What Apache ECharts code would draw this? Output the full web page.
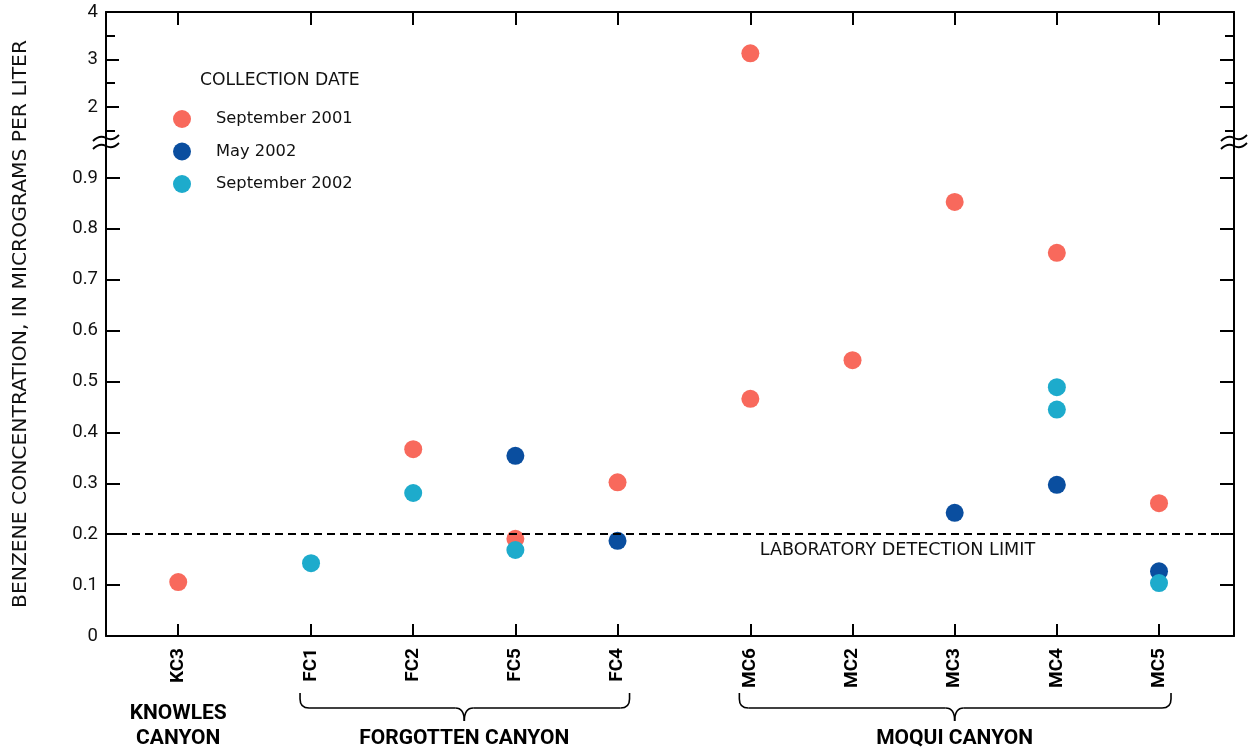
<!DOCTYPE html>
<html>
<head>
<meta charset="utf-8">
<title>Benzene concentration by site</title>
<script src="https://cdn.jsdelivr.net/npm/echarts@6/dist/echarts.min.js"></script>
<style>
  html, body { margin: 0; padding: 0; background: #ffffff; }
  #chart { width: 1251px; height: 752px; }
</style>
</head>
<body>
<div id="chart"></div>
<script>
// ---- data ----
const sites = ['KC3', 'FC1', 'FC2', 'FC5', 'FC4', 'MC6', 'MC2', 'MC3', 'MC4', 'MC5'];
// site positions along the x axis (wider gaps between canyons)
const sitePositions = [0, 1.3, 2.3, 3.3, 4.3, 5.6, 6.6, 7.6, 8.6, 9.6];

const seriesNames = ['September 2001', 'May 2002', 'September 2002'];
const seriesColors = ['#F8695C', '#0A4E9F', '#1DABCC'];

// [site, benzene micrograms per liter]
const sep2001 = [
  ['KC3', 0.106], ['FC2', 0.367], ['FC5', 0.191], ['FC4', 0.302],
  ['MC6', 3.13], ['MC6', 0.466], ['MC2', 0.542], ['MC3', 0.853],
  ['MC4', 0.753], ['MC5', 0.261]
];
const may2002 = [
  ['FC5', 0.354], ['FC4', 0.187], ['MC3', 0.242], ['MC4', 0.297], ['MC5', 0.127]
];
const sep2002 = [
  ['FC1', 0.143], ['FC2', 0.281], ['FC5', 0.169], ['MC4', 0.489],
  ['MC4', 0.445], ['MC5', 0.104]
];

const lowerTicks = [0, 0.1, 0.2, 0.3, 0.4, 0.5, 0.6, 0.7, 0.8, 0.9];
const upperMajorTicks = [2, 3, 4];
const upperMinorTicks = [1.5, 2.5, 3.5];
const detectionLimit = 0.2;

const groups = [
  { name: 'KNOWLES\nCANYON', from: 'KC3', to: 'KC3', brace: false },
  { name: 'FORGOTTEN CANYON', from: 'FC1', to: 'FC4', brace: true },
  { name: 'MOQUI CANYON', from: 'MC6', to: 'MC5', brace: true }
];

// ---- layout ----
const W = 1251, H = 752;
const PLOT_L = 106, PLOT_R = 1234, PLOT_T = 12, BREAK_Y = 142, PLOT_B = 636;
const X_MIN = -0.707, X_MAX = 10.334;
const UPPER_MIN = 1.263, UPPER_MAX = 4;
const LOWER_MIN = 0, LOWER_MAX = 0.9707;
const BREAK_VALUE = 1;
const DETECTION_LABEL_X = 7.04;

const INK = '#111111';
const LABEL_FONT = 'Roboto';
const SPACED_FONT = 'DejaVu Sans';

const posOf = name => sitePositions[sites.indexOf(name)];
const siteAt = v => {
  const i = sitePositions.findIndex(p => Math.abs(p - v) < 1e-6);
  return i >= 0 ? sites[i] : '';
};

const axisLineStyle = { color: '#000', width: 2 };

function yAxisDef(grid, side, min, max, tickValues, tickLen, showLine, label) {
  return {
    type: 'value', gridIndex: grid, position: side, min: min, max: max,
    axisLine: { show: showLine, onZero: false, lineStyle: axisLineStyle },
    axisTick: { show: true, inside: true, length: tickLen, customValues: tickValues, lineStyle: axisLineStyle },
    axisLabel: label || { show: false },
    splitLine: { show: false }
  };
}

const tickLabelStyle = { show: true, margin: 8, color: INK, fontFamily: LABEL_FONT, fontSize: 18.5 };

const yAxes = [
  // upper panel, left: whole-unit ticks with labels
  yAxisDef(0, 'left', UPPER_MIN, UPPER_MAX, upperMajorTicks, 13, true,
    Object.assign({ customValues: upperMajorTicks }, tickLabelStyle)),
  // upper panel, left: half-unit ticks
  yAxisDef(0, 'left', UPPER_MIN, UPPER_MAX, upperMinorTicks, 9, false),
  // upper panel, right
  yAxisDef(0, 'right', UPPER_MIN, UPPER_MAX, upperMajorTicks, 14, true),
  yAxisDef(0, 'right', UPPER_MIN, UPPER_MAX, upperMinorTicks, 9, false),
  // lower panel, left
  yAxisDef(1, 'left', LOWER_MIN, LOWER_MAX, lowerTicks, 14, true,
    Object.assign({ customValues: lowerTicks, formatter: v => (v === 0 ? '0' : v.toFixed(1)) }, tickLabelStyle)),
  // lower panel, right
  yAxisDef(1, 'right', LOWER_MIN, LOWER_MAX, lowerTicks, 14, true)
];

const xAxes = [
  {
    type: 'value', gridIndex: 0, position: 'top', min: X_MIN, max: X_MAX,
    axisLine: { show: true, onZero: false, lineStyle: axisLineStyle },
    axisTick: { show: true, inside: true, length: 13, customValues: sitePositions, lineStyle: axisLineStyle },
    axisLabel: { show: false },
    splitLine: { show: false }
  },
  {
    type: 'value', gridIndex: 1, position: 'bottom', min: X_MIN, max: X_MAX,
    axisLine: { show: true, onZero: false, lineStyle: axisLineStyle },
    axisTick: { show: true, inside: true, length: 12, customValues: sitePositions, lineStyle: axisLineStyle },
    axisLabel: {
      show: true, customValues: sitePositions, rotate: 90, margin: 12,
      formatter: v => siteAt(v), color: '#000',
      fontFamily: LABEL_FONT, fontWeight: 'bold', fontSize: 19
    },
    splitLine: { show: false }
  }
];

// split each collection into the broken-axis panels
const collections = [sep2001, may2002, sep2002];
const series = [];
collections.forEach((rows, k) => {
  const pts = rows.map(r => [posOf(r[0]), r[1]]);
  const upper = pts.filter(p => p[1] > BREAK_VALUE);
  const lower = pts.filter(p => p[1] <= BREAK_VALUE);
  const base = {
    type: 'scatter', name: seriesNames[k], symbol: 'circle', symbolSize: 18,
    itemStyle: { color: seriesColors[k], opacity: 1 }, z: 2 + k * 0.1, silent: true
  };
  if (upper.length) series.push(Object.assign({}, base, { xAxisIndex: 0, yAxisIndex: 0, data: upper }));
  series.push(Object.assign({}, base, { xAxisIndex: 1, yAxisIndex: 4, data: lower }));
});

// detection limit line, drawn above the points
series.push({
  type: 'line', name: 'detection limit', xAxisIndex: 1, yAxisIndex: 4, z: 5, silent: true,
  data: [],
  markLine: {
    silent: true, symbol: 'none', animation: false,
    label: { show: false },
    lineStyle: { color: '#000', width: 2, type: [8, 5], opacity: 1 },
    data: [{ yAxis: detectionLimit }]
  }
});

const chart = echarts.init(document.getElementById('chart'), null, { renderer: 'canvas' });

chart.setOption({
  animation: false,
  backgroundColor: '#ffffff',
  title: {
    text: 'COLLECTION DATE', left: 200, top: 72, padding: 0,
    textStyle: { fontFamily: SPACED_FONT, fontSize: 17.2, fontWeight: 'normal', color: INK }
  },
  legend: {
    orient: 'vertical', left: 173, top: 110, padding: 0,
    itemWidth: 18, itemHeight: 18, itemGap: 14.5, icon: 'circle',
    data: seriesNames,
    selectedMode: false,
    textStyle: { fontFamily: SPACED_FONT, fontSize: 16.3, color: INK, padding: [0, 0, 0, 20] }
  },
  grid: [
    { left: PLOT_L, right: W - PLOT_R, top: PLOT_T, height: BREAK_Y - PLOT_T, outerBoundsMode: 'none' },
    { left: PLOT_L, right: W - PLOT_R, top: BREAK_Y, height: PLOT_B - BREAK_Y, outerBoundsMode: 'none' }
  ],
  xAxis: xAxes,
  yAxis: yAxes,
  series: series
});

// ---- annotations: axis breaks, axis title, limit caption, canyon groupings ----
const px = v => chart.convertToPixel({ xAxisIndex: 1 }, v);
const py = v => chart.convertToPixel({ yAxisIndex: 4 }, v);
const graphics = [];
const inkLine = w => ({ fill: null, stroke: '#000', lineWidth: w });

function curve(x1, y1, cx, cy, x2, y2, w) {
  return { type: 'bezierCurve', shape: { x1: x1, y1: y1, cpx1: cx, cpy1: cy, x2: x2, y2: y2 }, style: inkLine(w) };
}
function seg(x1, y1, x2, y2, w) {
  return { type: 'line', shape: { x1: x1, y1: y1, x2: x2, y2: y2 }, style: inkLine(w) };
}

// "~~" break symbol across a vertical axis
function axisBreak(cx, cy) {
  const wave = dy => [
    curve(-13, dy + 3, -6.5, dy - 3.5, 0, dy, 1.8),
    curve(0, dy, 6.5, dy + 3.5, 13, dy - 3, 1.8)
  ];
  return {
    type: 'group', x: cx, y: cy, z: 100,
    children: [{ type: 'rect', shape: { x: -4, y: -4, width: 8, height: 8 }, style: { fill: '#fff' } }]
      .concat(wave(-4)).concat(wave(4))
  };
}
graphics.push(axisBreak(PLOT_L, BREAK_Y));
graphics.push(axisBreak(PLOT_R, BREAK_Y));

graphics.push({
  type: 'text', x: 21, y: (PLOT_T + PLOT_B) / 2, rotation: Math.PI / 2, z: 100,
  style: {
    text: 'BENZENE CONCENTRATION, IN MICROGRAMS PER LITER',
    fontFamily: SPACED_FONT, fontSize: 20.3, fill: INK,
    textAlign: 'center', textVerticalAlign: 'middle'
  }
});

graphics.push({
  type: 'text', x: px(DETECTION_LABEL_X), y: py(detectionLimit) + 16, z: 100,
  style: {
    text: 'LABORATORY DETECTION LIMIT',
    fontFamily: SPACED_FONT, fontSize: 17.6, fill: INK,
    textAlign: 'center', textVerticalAlign: 'middle'
  }
});

const braceTop = PLOT_B + 57, braceMid = PLOT_B + 72, braceTip = PLOT_B + 85;
groups.forEach(g => {
  const x0 = px(posOf(g.from)), x1 = px(posOf(g.to));
  const xc = (x0 + x1) / 2;
  if (g.brace) {
    const a = x0 - 11, b = x1 + 12, r = 9, w = 1.6;
    graphics.push({
      type: 'group', z: 100,
      children: [
        seg(a, braceTop, a, braceMid - r, w),
        curve(a, braceMid - r, a, braceMid, a + r, braceMid, w),
        seg(a + r, braceMid, xc - r, braceMid, w),
        curve(xc - r, braceMid, xc, braceMid, xc, braceTip, w),
        curve(xc, braceTip, xc, braceMid, xc + r, braceMid, w),
        seg(xc + r, braceMid, b - r, braceMid, w),
        curve(b - r, braceMid, b, braceMid, b, braceMid - r, w),
        seg(b, braceMid - r, b, braceTop, w)
      ]
    });
    graphics.push({
      type: 'text', x: xc, y: PLOT_B + 103, z: 100,
      style: { text: g.name, fontFamily: LABEL_FONT, fontWeight: 'bold', fontSize: 21, fill: '#000',
        textAlign: 'center', textVerticalAlign: 'middle' }
    });
  } else {
    graphics.push({
      type: 'text', x: xc, y: PLOT_B + 90.5, z: 100,
      style: { text: g.name, fontFamily: LABEL_FONT, fontWeight: 'bold', fontSize: 21, lineHeight: 25,
        fill: '#000', textAlign: 'center', textVerticalAlign: 'middle' }
    });
  }
});

chart.setOption({ graphic: graphics });
</script>
</body>
</html>
